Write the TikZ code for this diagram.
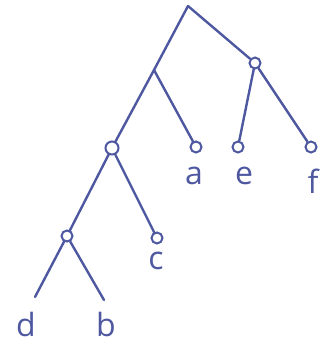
\documentclass[tikz,border=0pt]{standalone}
\usepackage{fontspec}
\setmainfont{Open Sans}
\definecolor{ink}{RGB}{78,88,160}
\begin{document}
\begin{tikzpicture}[x=1pt,y=-1pt,
  edge/.style={draw=ink,line width=2.4pt,line cap=round,line join=round},
  ring/.style={circle,draw=ink,line width=2pt,inner sep=0pt,minimum width=11pt,minimum height=9pt,fill=white},
  lab/.style={text=ink,font=\fontsize{32}{34}\selectfont,inner sep=0pt}]
\useasboundingbox (0,0) rectangle (321,357);
\coordinate (r) at (188,6);
\coordinate (n1) at (154,70);
\node[ring] (n2) at (255,63) {};
\node[ring,minimum width=13pt,minimum height=11pt] (n3) at (112,148) {};
\node[ring] (a) at (196,147) {};
\node[ring] (e) at (238,147) {};
\node[ring] (f) at (311,147) {};
\node[ring] (n4) at (67,236) {};
\node[ring] (c) at (157,238) {};
\coordinate (d) at (35,297);
\coordinate (b) at (104,300);
\draw[edge] (r) -- (n1);
\draw[edge] (r) -- (n2);
\draw[edge] (n1) -- (n3);
\draw[edge] (n1) -- (a);
\draw[edge] (n2) -- (e);
\draw[edge] (n2) -- (f);
\draw[edge] (n3) -- (n4);
\draw[edge] (n3) -- (c);
\draw[edge] (n4) -- (d);
\draw[edge] (n4) -- (b);
\node[lab] (la) at (194,176) {a};
\node[lab] (le) at (244,176) {e};
\node[lab] (lf) at (313,181) {f};
\node[lab] (lc) at (156,261) {c};
\node[lab] (ld) at (26,324) {d};
\node[lab] (lb) at (106,324) {b};
\end{tikzpicture}
\end{document}
